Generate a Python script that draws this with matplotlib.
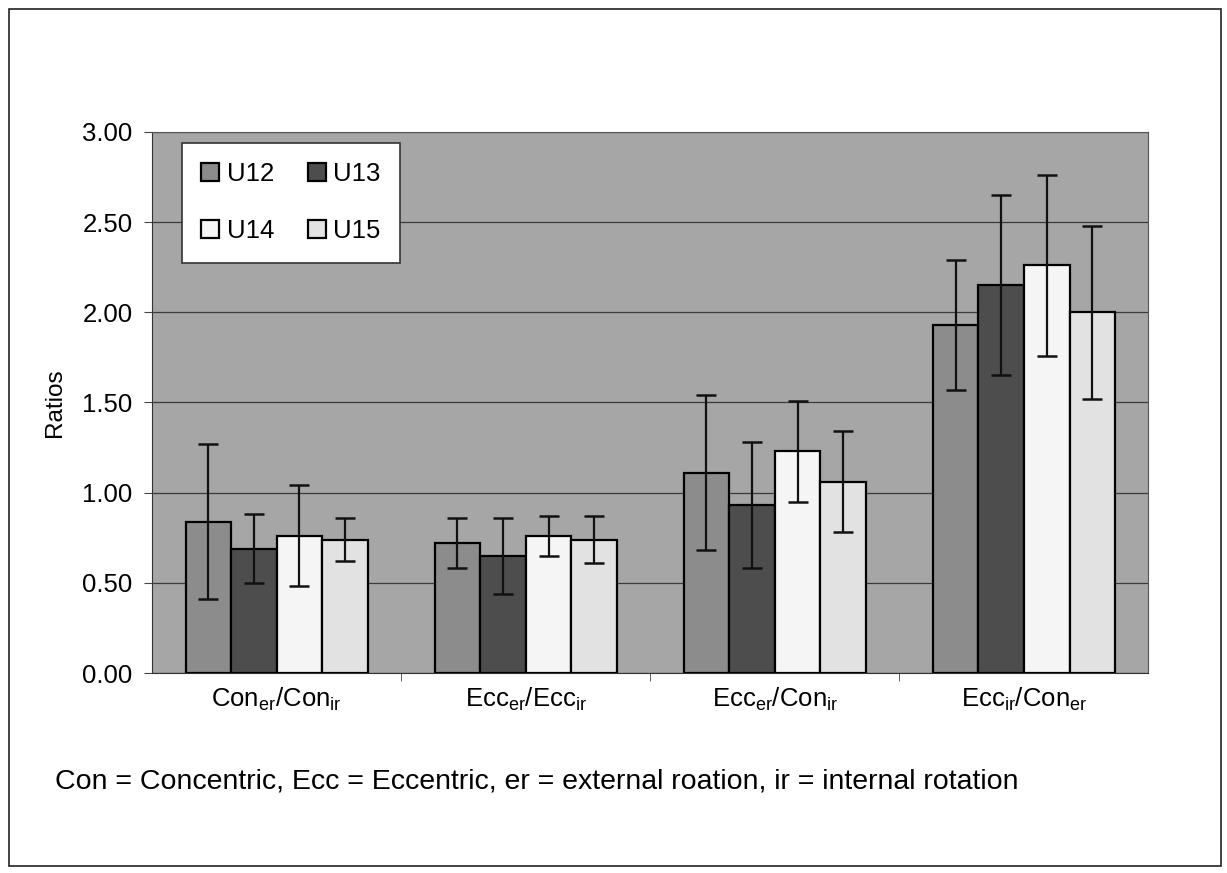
import numpy as np
import matplotlib
matplotlib.use('Agg')
import matplotlib.pyplot as plt
from matplotlib.patches import Rectangle

plt.rcParams['font.family'] = ['Liberation Sans', 'DejaVu Sans']

categories = [r'Con$_{\mathregular{er}}$/Con$_{\mathregular{ir}}$',
              r'Ecc$_{\mathregular{er}}$/Ecc$_{\mathregular{ir}}$',
              r'Ecc$_{\mathregular{er}}$/Con$_{\mathregular{ir}}$',
              r'Ecc$_{\mathregular{ir}}$/Con$_{\mathregular{er}}$']
groups = ['U12', 'U13', 'U14', 'U15']

u12 = [0.84, 0.72, 1.11, 1.93]
u13 = [0.69, 0.65, 0.93, 2.15]
u14 = [0.76, 0.76, 1.23, 2.26]
u15 = [0.74, 0.74, 1.06, 2.00]

u12_err = [0.43, 0.14, 0.43, 0.36]
u13_err = [0.19, 0.21, 0.35, 0.50]
u14_err = [0.28, 0.11, 0.28, 0.50]
u15_err = [0.12, 0.13, 0.28, 0.48]

footnote = 'Con = Concentric, Ecc = Eccentric, er = external roation, ir = internal rotation'

values = [u12, u13, u14, u15]
errors = [u12_err, u13_err, u14_err, u15_err]
colors = ['#8c8c8c', '#4d4d4d', '#f5f5f5', '#e2e2e2']
fs = 18.5

fig = plt.figure(figsize=(12.27, 8.73), dpi=100)
fig.patch.set_facecolor('white')
fig.patches.append(Rectangle((0.007, 0.008), 0.988, 0.982, transform=fig.transFigure,
                             fill=False, edgecolor='#222222', linewidth=1.2))

ax = fig.add_axes([0.124, 0.229, 0.812, 0.620])
ax.set_facecolor('#a6a6a6')

x = np.arange(len(categories))
w = 0.183
bars = []
for i in range(4):
    b = ax.bar(x + (i - 1.5) * w, values[i], w, color=colors[i], edgecolor='black',
               linewidth=1.6, label=groups[i], zorder=3,
               yerr=errors[i], error_kw=dict(ecolor='#111111', elinewidth=1.6,
                                             capsize=7, capthick=1.8, zorder=4))
    bars.append(b)

ax.set_ylim(0, 3.0)
ax.set_xlim(-0.5, 3.5)
ax.set_yticks(np.arange(0, 3.01, 0.5))
ax.set_yticklabels(['%.2f' % v for v in np.arange(0, 3.01, 0.5)])
ax.yaxis.grid(True, color='#3a3a3a', linewidth=0.9, zorder=1)
ax.set_axisbelow(True)

ax.set_xticks(x)
ax.set_xticklabels(categories)
ax.set_xticks([0.5, 1.5, 2.5], minor=True)
ax.tick_params(axis='x', which='major', length=0, pad=9, labelsize=fs)
ax.tick_params(axis='x', which='minor', length=6, color='#444444')
ax.tick_params(axis='y', length=6, labelsize=fs, pad=8, color='#444444')
ax.set_ylabel('Ratios', fontsize=fs - 1, labelpad=12)

for s in ['top', 'right']:
    ax.spines[s].set_color('#555555')
for s in ['left', 'bottom']:
    ax.spines[s].set_color('#333333')

# legend filled row by row: U12 U13 / U14 U15
order = [0, 2, 1, 3]
leg = ax.legend([bars[k] for k in order], [groups[k] for k in order],
                ncol=2, loc='upper left', bbox_to_anchor=(0.03, 0.98), fontsize=fs,
                frameon=True, fancybox=False, edgecolor='#333333',
                handlelength=0.7, handleheight=0.7, handletextpad=0.3,
                columnspacing=1.3, labelspacing=1.3, borderpad=0.75,
                borderaxespad=0)
leg.get_frame().set_facecolor('white')
leg.get_frame().set_alpha(1)
leg.get_frame().set_linewidth(1.2)
for h in leg.legend_handles:
    h.set_linewidth(1.6)

fig.text(0.045, 0.105, footnote, fontsize=20.5, ha='left', va='center')

fig.savefig('out.png', dpi=100)
